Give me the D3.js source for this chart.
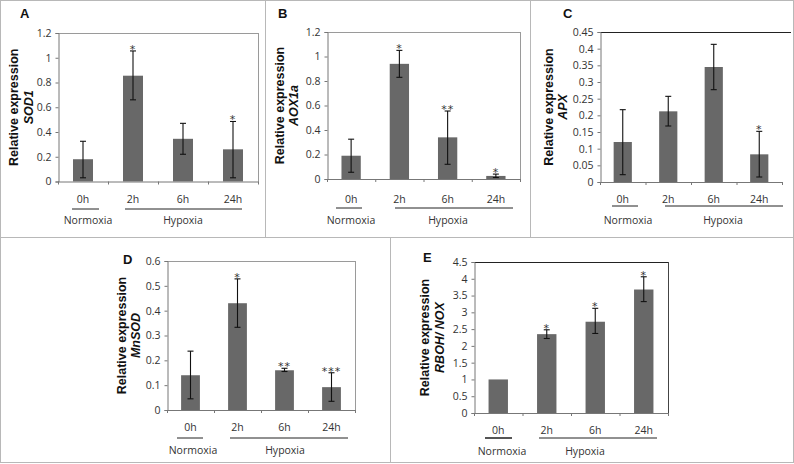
<!DOCTYPE html>
<html><head><meta charset="utf-8">
<script src="https://cdn.jsdelivr.net/npm/d3@7"></script>
<style>
html,body{margin:0;padding:0;background:#fff;}
svg{display:block;}
text{-webkit-font-smoothing:antialiased;}
</style></head>
<body>
<svg id="chart" width="794" height="464"></svg>
<script>
// ---- data ----
const categories = ["0h", "2h", "6h", "24h"];
const groupLabels = ["Normoxia", "Hypoxia"];

const sod1Values = [0.18, 0.855, 0.345, 0.26];
const sod1Low    = [0.03, 0.66, 0.22, 0.03];
const sod1High   = [0.325, 1.055, 0.47, 0.485];
const sod1Stars  = ["", "*", "", "*"];
const sod1Ticks  = [0, 0.2, 0.4, 0.6, 0.8, 1, 1.2];

const aox1aValues = [0.19, 0.94, 0.34, 0.025];
const aox1aLow    = [0.055, 0.83, 0.12, 0.012];
const aox1aHigh   = [0.325, 1.05, 0.555, 0.04];
const aox1aStars  = ["", "*", "**", "*"];
const aox1aTicks  = [0, 0.2, 0.4, 0.6, 0.8, 1, 1.2];

const apxValues = [0.12, 0.212, 0.345, 0.083];
const apxLow    = [0.022, 0.168, 0.277, 0.015];
const apxHigh   = [0.217, 0.257, 0.413, 0.152];
const apxStars  = ["", "", "", "*"];
const apxTicks  = [0, 0.05, 0.1, 0.15, 0.2, 0.25, 0.3, 0.35, 0.4, 0.45];

const mnsodValues = [0.14, 0.43, 0.16, 0.092];
const mnsodLow    = [0.045, 0.333, 0.155, 0.035];
const mnsodHigh   = [0.237, 0.528, 0.168, 0.15];
const mnsodStars  = ["", "*", "**", "***"];
const mnsodTicks  = [0, 0.1, 0.2, 0.3, 0.4, 0.5, 0.6];

const noxValues = [1.0, 2.35, 2.72, 3.68];
const noxLow    = [null, 2.22, 2.37, 3.32];
const noxHigh   = [null, 2.48, 3.12, 4.06];
const noxStars  = ["", "*", "*", "*"];
const noxTicks  = [0, 0.5, 1, 1.5, 2, 2.5, 3, 3.5, 4, 4.5];

// ---- layout (geometry only) ----
const panels = [
  {letter:"A", gene:"SOD1", vals:sod1Values, lo:sod1Low, hi:sod1High, stars:sod1Stars, ticks:sod1Ticks,
   x0:58, x1:258, yTop:33, yZero:181.5, lx:20, ly:18, labX:13, geneX:28,
   catY:203, lineY:209, nLine:[72,99], hLine:[125,242], nX:88, hX:183, grpY:224, topDark:false},
  {letter:"B", gene:"AOX1a", vals:aox1aValues, lo:aox1aLow, hi:aox1aHigh, stars:aox1aStars, ticks:aox1aTicks,
   x0:327, x1:520, yTop:32, yZero:179, lx:278, ly:18, labX:279, geneX:293,
   catY:203, lineY:208, nLine:[336,362], hLine:[395,513], nX:351, hX:448, grpY:224, topDark:false},
  {letter:"C", gene:"APX", vals:apxValues, lo:apxLow, hi:apxHigh, stars:apxStars, ticks:apxTicks,
   x0:600, x1:782, yTop:32, yZero:182, lx:563, ly:18, labX:548, geneX:562,
   catY:203, lineY:206, nLine:[612,638], hLine:[665,783], nX:628, hX:723, grpY:224, topDark:true, boxRight:791},
  {letter:"D", gene:"MnSOD", vals:mnsodValues, lo:mnsodLow, hi:mnsodHigh, stars:mnsodStars, ticks:mnsodTicks,
   x0:167, x1:355, yTop:261, yZero:410, lx:123, ly:264, labX:121, geneX:135,
   catY:431, lineY:438, nLine:[177,203], hLine:[230,348], nX:193, hX:285, grpY:454, topDark:false},
  {letter:"E", gene:"RBOH/ NOX", vals:noxValues, lo:noxLow, hi:noxHigh, stars:noxStars, ticks:noxTicks,
   x0:474, x1:668, yTop:262, yZero:413, lx:423, ly:262, labX:424, geneX:439,
   catY:434, lineY:438, nLine:[485,512], hLine:[539,657], nX:502, hX:585, grpY:455, topDark:true, nDark:true}
];

const svg = d3.select("#chart");
const border = "#b8b8b8";
// panel frame lines
svg.append("rect").attr("x",0.5).attr("y",0.5).attr("width",793).attr("height",462)
  .attr("fill","none").attr("stroke",border);
svg.append("line").attr("x1",0).attr("x2",794).attr("y1",237.5).attr("y2",237.5).attr("stroke",border);
svg.append("line").attr("x1",265.5).attr("x2",265.5).attr("y1",0).attr("y2",237).attr("stroke",border);
svg.append("line").attr("x1",530.5).attr("x2",530.5).attr("y1",0).attr("y2",237).attr("stroke",border);
svg.append("line").attr("x1",390.5).attr("x2",390.5).attr("y1",237).attr("y2",463).attr("stroke",border);

const tickFont = "'Open Sans', 'DejaVu Sans', sans-serif";
const barColor = "#686868";

panels.forEach(p => {
  const g = svg.append("g");
  const x = d3.scaleBand().domain(categories).range([p.x0, p.x1]).paddingInner(0.6).paddingOuter(0.3);
  const xb = d3.scaleBand().domain(categories).range([p.x0, p.x1]);
  const y = d3.scaleLinear().domain([0, d3.max(p.ticks)]).range([p.yZero, p.yTop]);
  const labY = (p.yTop + p.yZero) / 2;

  // plot box (top + right)
  const topColor = p.topDark ? "#222" : "#9a9a9a";
  g.append("line").attr("x1",p.x0).attr("x2",p.boxRight || p.x1).attr("y1",p.yTop+0.5).attr("y2",p.yTop+0.5)
    .attr("stroke",topColor).attr("stroke-width",p.topDark?1.2:1);
  if (!p.boxRight) {
    g.append("line").attr("x1",p.x1+0.5).attr("x2",p.x1+0.5).attr("y1",p.yTop).attr("y2",p.yZero)
      .attr("stroke", p.topDark ? "#444" : "#9a9a9a");
  }

  // bars
  g.selectAll("rect.bar").data(categories).join("rect")
    .attr("x", c => x(c)).attr("width", x.bandwidth())
    .attr("y", (c,i) => y(p.vals[i])).attr("height", (c,i) => y(0) - y(p.vals[i]))
    .attr("fill", barColor);

  // error bars
  categories.forEach((c,i) => {
    if (p.lo[i] == null) return;
    const cx = x(c) + x.bandwidth()/2;
    const cap = 3;
    g.append("line").attr("x1",cx).attr("x2",cx).attr("y1",y(p.lo[i])).attr("y2",y(p.hi[i]))
      .attr("stroke","#111").attr("stroke-width",1.1);
    [p.lo[i], p.hi[i]].forEach(v => {
      g.append("line").attr("x1",cx-cap).attr("x2",cx+cap).attr("y1",y(v)).attr("y2",y(v))
        .attr("stroke","#111").attr("stroke-width",1.1);
    });
    if (p.stars[i]) {
      g.append("text").attr("x",cx).attr("y",y(p.hi[i]) + 2)
        .attr("text-anchor","middle").attr("font-family","'DejaVu Sans', sans-serif")
        .attr("font-size",11).attr("fill","#333").attr("letter-spacing", 1)
        .text(p.stars[i]);
    }
  });

  // y axis
  const ya = d3.axisLeft(y).tickValues(p.ticks).tickSize(3).tickPadding(4).tickFormat(d => String(d));
  const yg = g.append("g").attr("transform", `translate(${p.x0+0.5},0)`).call(ya);
  yg.select(".domain").attr("stroke","#777");
  yg.selectAll(".tick line").attr("stroke","#777");
  yg.selectAll("text").attr("font-family",tickFont).attr("font-size",10.5).attr("fill","#333");

  // x axis (ticks at band boundaries)
  g.append("line").attr("x1",p.x0).attr("x2",p.x1+1).attr("y1",p.yZero+0.5).attr("y2",p.yZero+0.5).attr("stroke","#777");
  const bounds = categories.map(c => xb(c)).concat([p.x1]);
  g.selectAll("line.xt").data(bounds).join("line")
    .attr("x1", d => d+0.5).attr("x2", d => d+0.5).attr("y1", p.yZero).attr("y2", p.yZero+3)
    .attr("stroke","#777");
  g.selectAll("text.cat").data(categories).join("text")
    .attr("x", c => x(c) + x.bandwidth()/2).attr("y", p.catY)
    .attr("text-anchor","middle").attr("font-family",tickFont).attr("font-size",10.5).attr("fill","#333")
    .text(c => c);

  // group underline + labels
  g.append("line").attr("x1",p.nLine[0]).attr("x2",p.nLine[1]).attr("y1",p.lineY).attr("y2",p.lineY)
    .attr("stroke", p.nDark ? "#555" : "#222").attr("stroke-width", p.nDark ? 2 : 1);
  g.append("line").attr("x1",p.hLine[0]).attr("x2",p.hLine[1]).attr("y1",p.lineY).attr("y2",p.lineY)
    .attr("stroke","#222");
  g.append("text").attr("x",p.nX).attr("y",p.grpY).attr("text-anchor","middle")
    .attr("font-family",tickFont).attr("font-size",10.5).attr("fill","#333").text(groupLabels[0]);
  g.append("text").attr("x",p.hX).attr("y",p.grpY).attr("text-anchor","middle")
    .attr("font-family",tickFont).attr("font-size",10.5).attr("fill","#333").text(groupLabels[1]);

  // y label
  g.append("text").attr("transform",`translate(${p.labX + 5},${labY}) rotate(-90)`)
    .attr("text-anchor","middle").attr("font-family","'Liberation Sans', Arial, sans-serif")
    .attr("font-weight","bold").attr("font-size",12.5).attr("fill","#111").text("Relative expression");
  g.append("text").attr("transform",`translate(${p.geneX + 5},${labY}) rotate(-90)`)
    .attr("text-anchor","middle").attr("font-family","'Liberation Sans', Arial, sans-serif")
    .attr("font-weight","bold").attr("font-style","italic").attr("font-size",12.5).attr("fill","#111").text(p.gene);

  // panel letter
  g.append("text").attr("x",p.lx).attr("y",p.ly).attr("font-family","'Liberation Sans', Arial, sans-serif")
    .attr("font-weight","bold").attr("font-size",13).attr("fill","#111").text(p.letter);
});
</script>
</body></html>
